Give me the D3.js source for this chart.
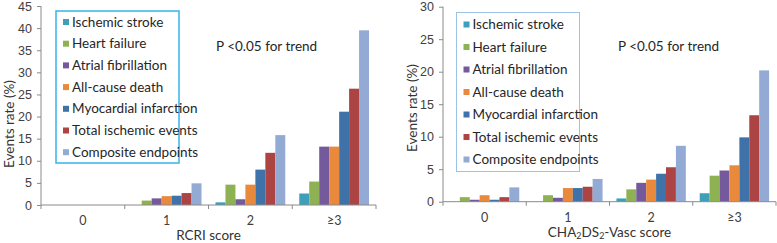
<!DOCTYPE html>
<html>
<head>
<meta charset="utf-8">
<script src="https://cdn.jsdelivr.net/npm/d3@7"></script>
<style>
  html, body { margin: 0; padding: 0; background: #fff; }
  svg { display: block; font-family: Lato, "Open Sans", sans-serif; }
  .axis path, .axis line { stroke: #8a8a8a; }
  .axis text { fill: #404040; font-size: 12px; }
</style>
</head>
<body>
<div id="chart"></div>
<script>
'use strict'

// Data.
const series = ['Ischemic stroke', 'Heart failure', 'Atrial fibrillation', 'All-cause death',
    'Myocardial infarction', 'Total ischemic events', 'Composite endpoints'];
const colors = ['#3d9fba', '#8db153', '#745a9d', '#e8893b', '#4072aa', '#ab4442', '#93aad4'];
const categories = ['0', '1', '2', '≥3'];

// one row per score, one value per series
const rcriValues = [
    [0, 0, 0, 0, 0, 0, 0],
    [0, 1.0, 1.5, 2.0, 2.1, 2.7, 4.9],
    [0.6, 4.6, 1.3, 4.6, 8.0, 11.8, 15.8],
    [2.6, 5.3, 13.2, 13.2, 21.1, 26.3, 39.5]
];
const chaValues = [
    [0, 0.7, 0.3, 1.0, 0.3, 0.7, 2.2],
    [0, 1.0, 0.6, 2.1, 2.1, 2.3, 3.5],
    [0.5, 1.9, 2.9, 3.4, 4.3, 5.3, 8.6],
    [1.3, 4.0, 4.8, 5.6, 9.9, 13.3, 20.2]
];
const rcriTicks = [0, 5, 10, 15, 20, 25, 30, 35, 40, 45];
const chaTicks = [0, 5, 10, 15, 20, 25, 30];

const svg = d3.select('#chart')
    .append('svg')
    .attr('width', 777)
    .attr('height', 243);

function panel(opt) {
    const x0 = d3.scaleBand()
        .domain(categories)
        .range([opt.left, opt.right])
        .paddingInner(0.167)
        .paddingOuter(0.083);

    const x1 = d3.scaleBand()
        .domain(series)
        .range([0, x0.bandwidth()]);

    const y = d3.scaleLinear()
        .domain([0, d3.max(opt.ticks)])
        .range([opt.bottom, opt.top]);

    const g = svg.append('g');

    // bars
    const groups = g.selectAll('g.cat')
        .data(opt.values)
        .join('g')
        .attr('class', 'cat')
        .attr('transform', (d, i) => `translate(${x0(categories[i])},0)`);

    groups.selectAll('rect')
        .data(d => d.map((v, j) => ({ key: series[j], value: v, color: colors[j] })))
        .join('rect')
        .attr('x', d => x1(d.key))
        .attr('width', x1.bandwidth())
        .attr('y', d => y(d.value))
        .attr('height', d => y(0) - y(d.value))
        .style('fill', d => d.color);

    // y axis
    const yAxis = d3.axisLeft(y)
        .tickValues(opt.ticks)
        .tickSize(4)
        .tickPadding(5);
    g.append('g')
        .attr('class', 'axis')
        .attr('transform', `translate(${opt.left},0)`)
        .call(yAxis)
        .call(a => a.select('.domain').attr('d', `M0,${opt.top}V${opt.bottom}`))
        .call(a => a.selectAll('.tick text').style('font-size', '12.5px'));

    // x axis with ticks between categories
    const edges = d3.range(categories.length + 1).map(i => opt.left + i * (opt.right - opt.left) / categories.length);
    const xg = g.append('g').attr('class', 'axis');
    xg.append('path')
        .attr('d', `M${opt.left},${opt.bottom}H${opt.right}`)
        .attr('fill', 'none');
    xg.selectAll('line')
        .data(edges)
        .join('line')
        .attr('x1', d => d).attr('x2', d => d)
        .attr('y1', opt.bottom).attr('y2', opt.bottom + 4);
    xg.selectAll('text')
        .data(categories)
        .join('text')
        .attr('x', d => x0(d) + x0.bandwidth() / 2)
        .attr('y', opt.bottom + 20)
        .style('text-anchor', 'middle')
        .style('font-size', '12.5px')
        .text(d => d);

    // axis titles
    g.append('text')
        .attr('transform', `translate(${opt.yTitleX},${opt.yTitleY}) rotate(-90)`)
        .style('text-anchor', 'middle')
        .style('font-size', opt.yTitleSize)
        .style('fill', '#333')
        .text('Events rate (%)');

    const xt = g.append('text')
        .attr('x', (opt.left + opt.right) / 2)
        .attr('y', opt.xTitleY)
        .style('text-anchor', 'middle')
        .style('font-size', '13.5px')
        .style('fill', '#333');
    opt.xTitle.forEach(part => {
        xt.append('tspan')
            .attr('baseline-shift', part.sub ? '-25%' : null)
            .style('font-size', part.sub ? '9px' : null)
            .text(part.t);
    });

    // legend
    g.append('rect')
        .attr('x', opt.legend.x)
        .attr('y', opt.legend.y)
        .attr('width', opt.legend.w)
        .attr('height', opt.legend.h)
        .attr('fill', '#fff')
        .attr('stroke', opt.legend.stroke)
        .attr('stroke-width', opt.legend.sw);

    const items = g.selectAll('g.leg')
        .data(series)
        .join('g')
        .attr('class', 'leg')
        .attr('transform', (d, i) => `translate(${opt.legend.x + 7},${opt.legend.y + opt.legend.first + i * opt.legend.gap})`);
    items.append('rect')
        .attr('x', 0).attr('y', -3)
        .attr('width', 6).attr('height', 6)
        .style('fill', (d, i) => colors[i]);
    items.append('text')
        .attr('x', 9)
        .attr('y', 4.5)
        .style('font-size', '13.5px')
        .style('fill', '#262626')
        .text(d => d);

    g.append('text')
        .attr('x', opt.pX)
        .attr('y', opt.pY)
        .style('font-size', '13.5px')
        .style('fill', '#262626')
        .text('P <0.05 for trend');
}

panel({
    values: rcriValues, ticks: rcriTicks,
    left: 41, right: 376, top: 6, bottom: 205,
    yTitleX: 14, yTitleY: 124, yTitleSize: '13.5px', xTitleY: 240,
    xTitle: [{ t: 'RCRI score' }],
    legend: { x: 56, y: 11, w: 123, h: 152, first: 11, gap: 21.7, stroke: '#35b4e6', sw: 1.5 },
    pX: 216, pY: 51
});

panel({
    values: chaValues, ticks: chaTicks,
    left: 443, right: 776, top: 6.7, bottom: 201.7,
    yTitleX: 417, yTitleY: 108, yTitleSize: '13.5px', xTitleY: 237,
    xTitle: [{ t: 'CHA' }, { t: '2', sub: true }, { t: 'DS' }, { t: '2', sub: true }, { t: '-Vasc score' }],
    legend: { x: 456.5, y: 12.5, w: 123, h: 159, first: 12, gap: 22.5, stroke: '#9cc3e5', sw: 1 },
    pX: 618, pY: 51
});
</script>
</body>
</html>
